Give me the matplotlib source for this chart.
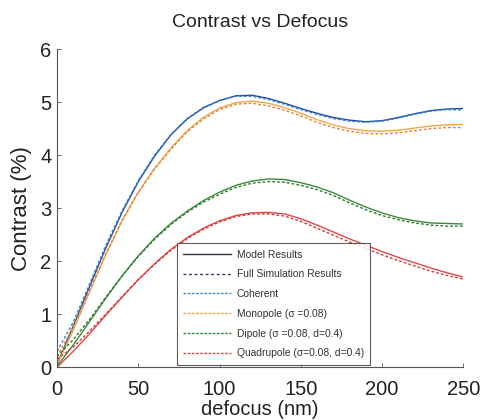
import matplotlib
matplotlib.use("Agg")
import matplotlib.pyplot as plt
from matplotlib.lines import Line2D

plt.rcParams['font.family'] = ['Liberation Sans', 'DejaVu Sans']

defocus = list(range(0, 251, 10))

coh_model = [0.05, 0.78, 1.52, 2.25, 2.92, 3.5, 3.98, 4.38, 4.68, 4.89, 5.03, 5.12, 5.13, 5.07, 4.98, 4.88, 4.79, 4.71, 4.66, 4.63, 4.65, 4.71, 4.78, 4.84, 4.87, 4.88]
coh_sim = [0.3, 0.85, 1.57, 2.3, 2.95, 3.52, 4.0, 4.39, 4.69, 4.9, 5.03, 5.11, 5.11, 5.05, 4.96, 4.86, 4.77, 4.69, 4.64, 4.62, 4.64, 4.7, 4.77, 4.83, 4.86, 4.85]
mono_model = [0.05, 0.7, 1.42, 2.12, 2.76, 3.3, 3.75, 4.13, 4.46, 4.71, 4.89, 4.99, 5.02, 4.98, 4.9, 4.79, 4.67, 4.57, 4.5, 4.46, 4.45, 4.47, 4.51, 4.55, 4.57, 4.58]
mono_sim = [0.2, 0.76, 1.45, 2.14, 2.77, 3.3, 3.74, 4.11, 4.44, 4.68, 4.86, 4.96, 4.98, 4.93, 4.85, 4.74, 4.62, 4.52, 4.45, 4.41, 4.4, 4.42, 4.46, 4.5, 4.52, 4.52]
dip_model = [0.02, 0.42, 0.86, 1.3, 1.72, 2.1, 2.43, 2.71, 2.94, 3.14, 3.3, 3.43, 3.51, 3.55, 3.54, 3.48, 3.4, 3.29, 3.15, 3.02, 2.91, 2.82, 2.76, 2.72, 2.71, 2.7]
dip_sim = [0.2, 0.52, 0.9, 1.32, 1.72, 2.09, 2.41, 2.69, 2.92, 3.11, 3.26, 3.39, 3.47, 3.5, 3.49, 3.43, 3.35, 3.24, 3.1, 2.97, 2.86, 2.78, 2.72, 2.68, 2.66, 2.66]
quad_model = [0.0, 0.3, 0.63, 0.98, 1.32, 1.65, 1.95, 2.22, 2.44, 2.62, 2.76, 2.86, 2.91, 2.92, 2.89, 2.8, 2.68, 2.55, 2.42, 2.3, 2.18, 2.07, 1.97, 1.87, 1.78, 1.70]
quad_sim = [0.15, 0.38, 0.68, 1.0, 1.33, 1.65, 1.94, 2.2, 2.42, 2.6, 2.74, 2.84, 2.89, 2.89, 2.85, 2.75, 2.62, 2.49, 2.36, 2.24, 2.12, 2.01, 1.91, 1.81, 1.73, 1.66]

series_labels = ["Coherent", "Monopole (σ =0.08)", "Dipole (σ =0.08, d=0.4)", "Quadrupole (σ=0.08, d=0.4)"]
model_colors = ["#1f4e9c", "#f0a848", "#3a8a3a", "#e04848"]
sim_colors = ["#3b7fd0", "#e8803a", "#2f7a2f", "#d83838"]
legend_colors = ["#4a8ad8", "#f0a848", "#3a8a3a", "#e04848"]

fig = plt.figure(figsize=(4.84, 4.2), dpi=100)
ax = fig.add_axes([0.118, 0.126, 0.839, 0.757])

models = [coh_model, mono_model, dip_model, quad_model]
sims = [coh_sim, mono_sim, dip_sim, quad_sim]
dash = (0, (2.0, 1.5))
for m, s, mc, sc in zip(models, sims, model_colors, sim_colors):
    ax.plot(defocus, m, color=mc, lw=1.0)
    ax.plot(defocus, s, color=sc, lw=1.0, linestyle=dash)

ax.set_xlim(0, 250)
ax.set_ylim(0, 6)
ax.set_xticks([0, 50, 100, 150, 200, 250])
ax.set_yticks([0, 1, 2, 3, 4, 5, 6])
ax.spines['top'].set_visible(False)
ax.spines['right'].set_visible(False)
for sp in ['left', 'bottom']:
    ax.spines[sp].set_color('#555555')
    ax.spines[sp].set_linewidth(0.8)
ax.tick_params(direction='in', length=3, width=0.6, colors='#555555', labelcolor='#222222', labelsize=14.5)
ax.tick_params(axis='x', pad=9)
ax.tick_params(axis='y', pad=4)

ax.set_title("Contrast vs Defocus", fontsize=14, color='#222222', pad=16)
ax.set_xlabel("defocus (nm)", fontsize=14.5, color='#222222', labelpad=1)
ax.set_ylabel("Contrast (%)", fontsize=16, color='#222222', labelpad=6)

handles = [Line2D([], [], color='#303048', lw=1.0),
           Line2D([], [], color='#303060', lw=1.0, linestyle=(0, (2, 2)))]
for c in legend_colors:
    handles.append(Line2D([], [], color=c, lw=1.0, linestyle=(0, (2, 1))))
labels = ["Model Results", "Full Simulation Results"] + series_labels
leg = ax.legend(handles, labels, loc='lower left', bbox_to_anchor=(0.296, 0.008),
                fontsize=7.4, handlelength=4.6, handletextpad=0.6, labelspacing=0.95,
                borderpad=0.6, frameon=True, fancybox=False, borderaxespad=0)
leg.get_frame().set_edgecolor('#333333')
leg.get_frame().set_linewidth(0.8)
for t in leg.get_texts():
    t.set_color('#333333')

fig.savefig("out.png", dpi=100)
